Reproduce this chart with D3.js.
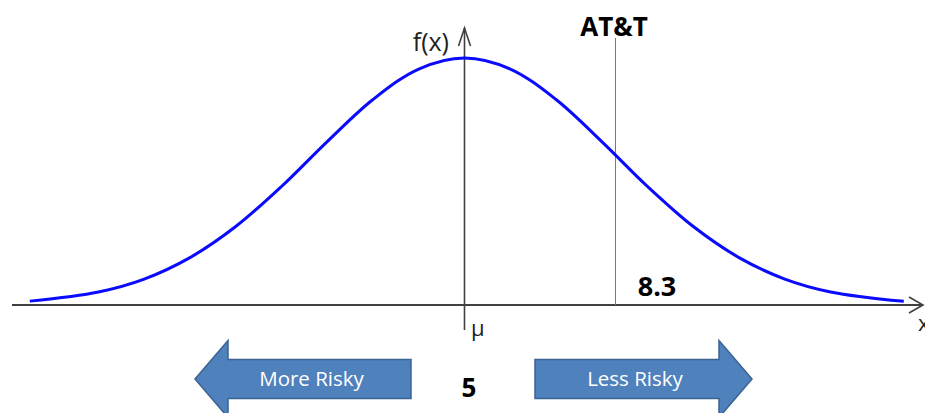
<!DOCTYPE html>
<html>
<head>
<meta charset="utf-8">
<script src="https://cdn.jsdelivr.net/npm/d3@7"></script>
<style>
  html, body { margin: 0; padding: 0; background: #fff; }
  svg { display: block; }
</style>
</head>
<body>
<div id="chart"></div>
<script>
// curve points (x in score units, y = f(x))
const curveX = [-4.5, -3, -2, -1, 0, 1, 2, 3, 4, 5, 6, 7, 8, 9, 10, 11, 12, 13, 14.6];
const curveY = [0.0019, 0.0064, 0.0127, 0.0232, 0.0384, 0.0580, 0.0800, 0.1006, 0.1155, 0.1209,
                0.1155, 0.1006, 0.0800, 0.0580, 0.0384, 0.0232, 0.0127, 0.0064, 0.0018];

const meanValue = 5;
const meanLabel = '5';
const markerValue = 8.3;
const markerLabel = '8.3';
const markerName = 'AT&T';
const arrowLabels = ['More Risky', 'Less Risky'];

const W = 925, H = 413;
const axisColor = '#404040';
const arrowFill = '#4f81bd';
const arrowStroke = '#3b6392';
const font = 'Open Sans, sans-serif';

const svg = d3.select('#chart').append('svg')
    .attr('width', W)
    .attr('height', H);

// scales: 5 -> 464px, 8.3 -> 615px ; f=0 -> 305, peak -> 58
const x = d3.scaleLinear().domain([meanValue, markerValue]).range([464.5, 615.5]);
const y = d3.scaleLinear().domain([0, 0.1209]).range([305, 58]);

// x axis with open arrow head
svg.append('line')
    .attr('x1', 12).attr('x2', 923)
    .attr('y1', y(0)).attr('y2', y(0))
    .attr('stroke', axisColor).attr('stroke-width', 2);
svg.append('path')
    .attr('d', 'M909,' + (y(0) - 8) + 'L923,' + y(0) + 'L909,' + (y(0) + 8))
    .attr('fill', 'none').attr('stroke', axisColor).attr('stroke-width', 1.6);
svg.append('text')
    .attr('x', 918).attr('y', 331)
    .attr('font-family', font)
    .attr('font-size', 22)
    .attr('fill', '#222')
    .text('x');

// y axis through the mean
const ax = x(meanValue);
svg.append('line')
    .attr('x1', ax).attr('x2', ax)
    .attr('y1', 330).attr('y2', 28)
    .attr('stroke', axisColor).attr('stroke-width', 1.6);
svg.append('path')
    .attr('d', 'M' + (ax - 6) + ',46L' + ax + ',28L' + (ax + 6) + ',46')
    .attr('fill', 'none').attr('stroke', axisColor).attr('stroke-width', 1.6);
svg.append('text')
    .attr('x', 449).attr('y', 51)
    .attr('text-anchor', 'end')
    .attr('font-family', font)
    .attr('font-size', 25)
    .attr('fill', '#222')
    .text('f(x)');
svg.append('text')
    .attr('x', 471).attr('y', 336)
    .attr('font-family', font)
    .attr('font-size', 22)
    .attr('fill', '#222')
    .text('\u03bc');

// marker line (AT&T)
svg.append('line')
    .attr('x1', x(markerValue)).attr('x2', x(markerValue))
    .attr('y1', 38).attr('y2', y(0))
    .attr('stroke', '#5a7fae').attr('stroke-width', 1);
svg.append('text')
    .attr('x', 614).attr('y', 36)
    .attr('text-anchor', 'middle')
    .attr('font-family', font)
    .attr('font-weight', 'bold')
    .attr('font-size', 26)
    .attr('fill', '#000')
    .text(markerName);
svg.append('text')
    .attr('x', 657).attr('y', 296)
    .attr('text-anchor', 'middle')
    .attr('font-family', font)
    .attr('font-weight', 'bold')
    .attr('font-size', 27)
    .attr('fill', '#000')
    .text(markerLabel);

// density curve
const line = d3.line()
    .x(function (d, i) { return x(curveX[i]); })
    .y(function (d) { return y(d); })
    .curve(d3.curveCatmullRom);
svg.append('path')
    .attr('d', line(curveY))
    .attr('fill', 'none')
    .attr('stroke', '#0a0aff')
    .attr('stroke-width', 3);

// mean value under the axis
svg.append('text')
    .attr('x', 469).attr('y', 397)
    .attr('text-anchor', 'middle')
    .attr('font-family', font)
    .attr('font-weight', 'bold')
    .attr('font-size', 26)
    .attr('fill', '#000')
    .text(meanLabel);

// block arrows
function blockArrow(tipX, headX, tailX, cy, label) {
    const bodyHalf = 19.5, headHalf = 38.5;
    const pts = [
        [tipX, cy],
        [headX, cy - headHalf],
        [headX, cy - bodyHalf],
        [tailX, cy - bodyHalf],
        [tailX, cy + bodyHalf],
        [headX, cy + bodyHalf],
        [headX, cy + headHalf]
    ];
    svg.append('path')
        .attr('d', 'M' + pts.map(function (p) { return p.join(','); }).join('L') + 'Z')
        .attr('fill', arrowFill)
        .attr('stroke', arrowStroke)
        .attr('stroke-width', 1.5);
    // label sits a little towards the head
    const shift = 8 * Math.sign(tipX - tailX);
    svg.append('text')
        .attr('x', (headX + tailX) / 2 + shift)
        .attr('y', cy + 7)
        .attr('text-anchor', 'middle')
        .attr('font-family', font)
        .attr('font-size', 20.5)
        .attr('fill', '#fff')
        .text(label);
}
blockArrow(195, 228, 411, 379, arrowLabels[0]);
blockArrow(752, 719, 535, 379, arrowLabels[1]);
</script>
</body>
</html>
